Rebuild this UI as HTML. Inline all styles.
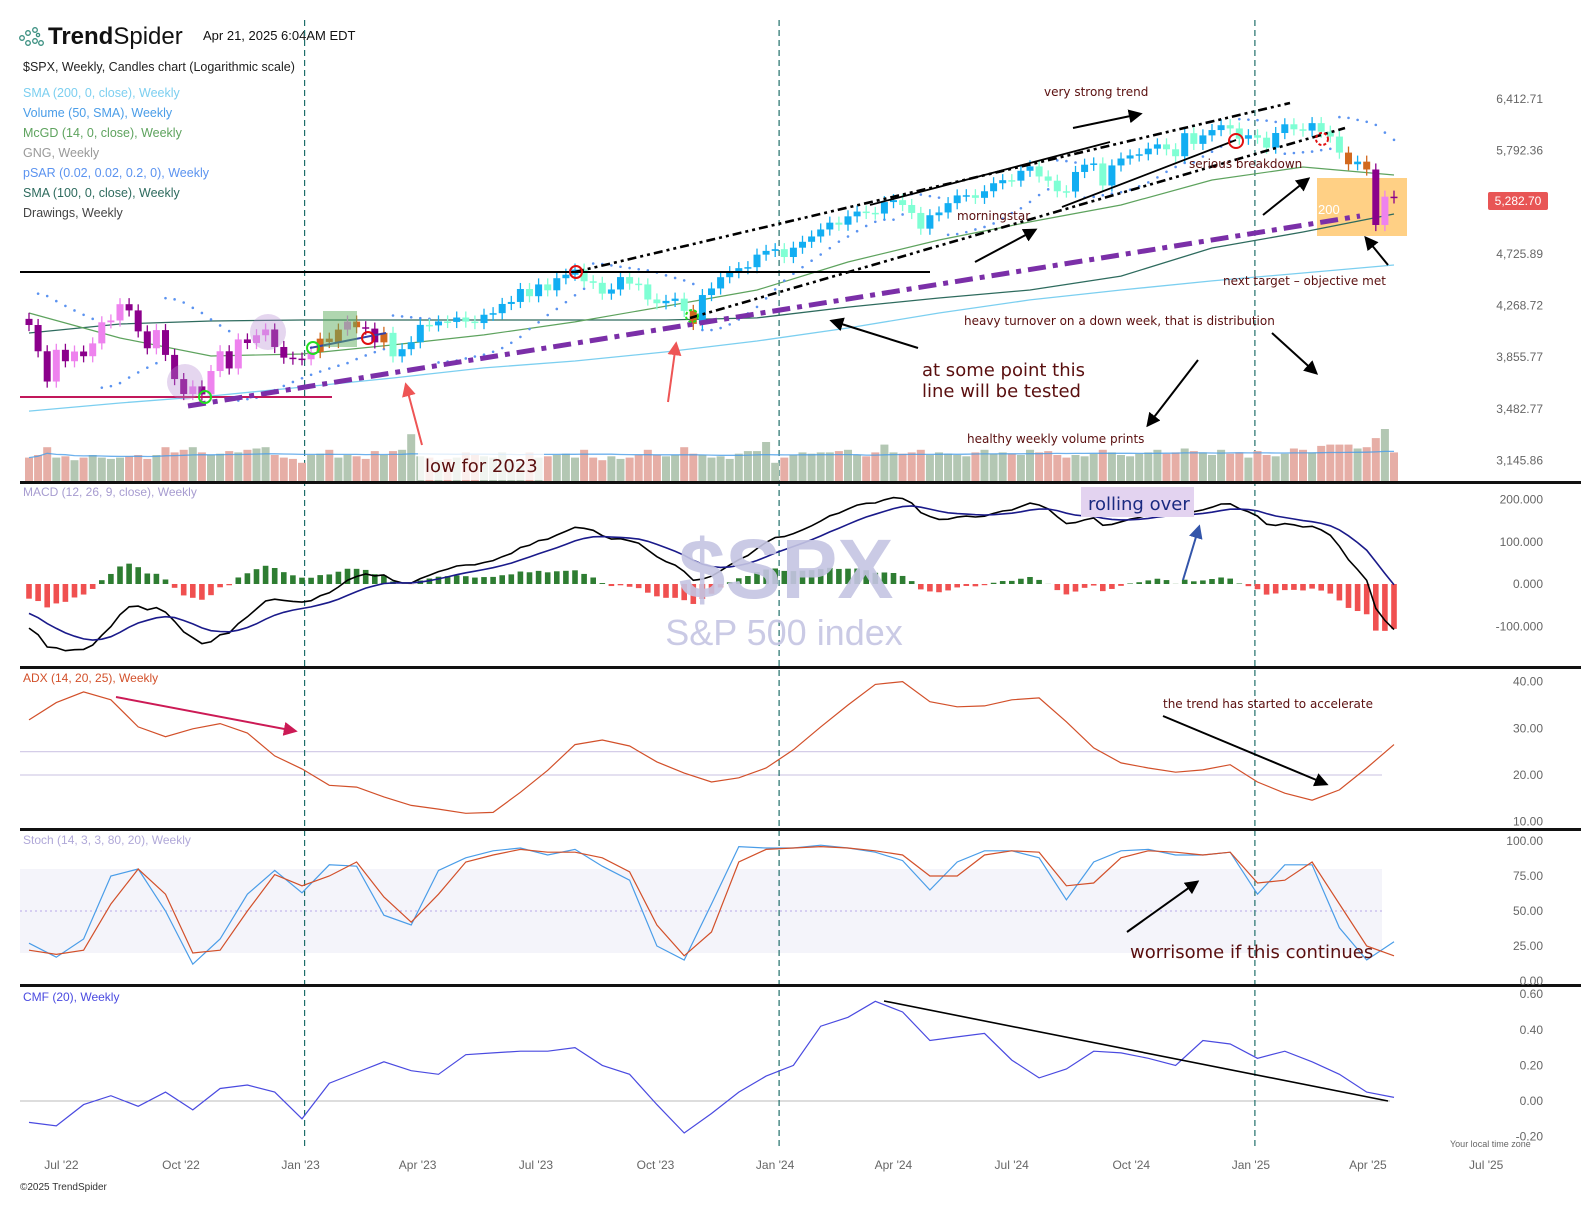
<!DOCTYPE html>
<html><head><meta charset="utf-8"><title>$SPX Weekly – TrendSpider</title>
<style>
html,body{margin:0;padding:0;background:#fff;}
svg{display:block;font-family:"Liberation Sans",sans-serif;}
.ann{font-family:"DejaVu Sans","Liberation Sans",sans-serif;fill:#5a0f0f;}
.ax{font-size:12px;fill:#666;}
</style></head>
<body>
<svg id="chart" width="1581" height="1206" viewBox="0 0 1581 1206" xmlns="http://www.w3.org/2000/svg">
<defs>
<marker id="ahB" viewBox="0 0 10 10" refX="8" refY="5" markerWidth="7" markerHeight="7" orient="auto"><path d="M0,0 L10,5 L0,10 z" fill="#000"/></marker>
<marker id="ahR" viewBox="0 0 10 10" refX="8" refY="5" markerWidth="7" markerHeight="7" orient="auto"><path d="M0,0 L10,5 L0,10 z" fill="#ee5555"/></marker>
<marker id="ahC" viewBox="0 0 10 10" refX="8" refY="5" markerWidth="7" markerHeight="7" orient="auto"><path d="M0,0 L10,5 L0,10 z" fill="#cc1a55"/></marker>
<marker id="ahN" viewBox="0 0 10 10" refX="8" refY="5" markerWidth="7" markerHeight="7" orient="auto"><path d="M0,0 L10,5 L0,10 z" fill="#3355aa"/></marker>
</defs>

<!-- header -->
<g>
  <g fill="none" stroke="#3a8f80" stroke-width="1.3">
    <circle cx="22" cy="38" r="2.3"/><circle cx="28" cy="33" r="2.3"/><circle cx="35" cy="30" r="2.3"/><circle cx="28" cy="43" r="2.3"/><circle cx="35" cy="41" r="2.3"/><circle cx="41" cy="43" r="2.3"/><circle cx="38" cy="35" r="1.6"/>
  </g>
  <text x="48" y="44" font-size="24" fill="#111"><tspan font-weight="bold">Trend</tspan><tspan>Spider</tspan></text>
  <text x="203" y="40" font-size="13" fill="#111">Apr 21, 2025 6:04AM EDT</text>
  <text x="23" y="71" font-size="12.5" fill="#222">$SPX, Weekly, Candles chart (Logarithmic scale)</text>
  <text x="23" y="97" font-size="12.5" fill="#7ccff0">SMA (200, 0, close), Weekly</text>
  <text x="23" y="117" font-size="12.5" fill="#4a9de8">Volume (50, SMA), Weekly</text>
  <text x="23" y="137" font-size="12.5" fill="#5ea35e">McGD (14, 0, close), Weekly</text>
  <text x="23" y="157" font-size="12.5" fill="#999">GNG, Weekly</text>
  <text x="23" y="177" font-size="12.5" fill="#5b93f0">pSAR (0.02, 0.02, 0.2, 0), Weekly</text>
  <text x="23" y="197" font-size="12.5" fill="#2e6b5e">SMA (100, 0, close), Weekly</text>
  <text x="23" y="217" font-size="12.5" fill="#444">Drawings, Weekly</text>
</g>

<rect x="1317" y="178" width="90" height="58" fill="#ffc870" opacity="0.85"/>
<g id="layer-bg"></g>
<g id="layer-vol"></g>
<g id="layer-lines"></g>
<g id="layer-candles"></g>
<g id="layer-ind"></g>

<!-- watermark -->
<g>
  <text x="786" y="598" font-size="84" font-weight="bold" fill="#c5c5e3" text-anchor="middle" opacity="0.9">$SPX</text>
  <text x="784" y="645" font-size="36" fill="#c5c5e3" text-anchor="middle" opacity="0.9">S&amp;P 500 index</text>
</g>

<!-- drawings -->
<g id="drawings">
  <line x1="20" y1="272" x2="930" y2="272" stroke="#000" stroke-width="2"/>
  <line x1="20" y1="397" x2="332" y2="397" stroke="#c2185b" stroke-width="2"/>
  <line x1="188" y1="406" x2="1360" y2="216" stroke="#7b2fa8" stroke-width="5" stroke-dasharray="18,7,5,7"/>
  <line x1="575" y1="272" x2="1290" y2="103" stroke="#000" stroke-width="2.6" stroke-dasharray="9,4,3,4,3,4"/>
  <line x1="690" y1="318" x2="1345" y2="128" stroke="#000" stroke-width="2.6" stroke-dasharray="9,4,3,4,3,4"/>
  <line x1="870" y1="205" x2="1110" y2="142" stroke="#000" stroke-width="1.8"/>
  <line x1="1062" y1="207" x2="1236" y2="140" stroke="#000" stroke-width="1.8"/>
  <line x1="310" y1="348" x2="386" y2="333" stroke="#3344aa" stroke-width="2"/>
  <circle cx="185" cy="382" r="18" fill="#b48ad0" opacity="0.35"/>
  <circle cx="268" cy="332" r="18" fill="#b48ad0" opacity="0.35"/>
  <rect x="323" y="311" width="34" height="36" fill="#5fae5f" opacity="0.5"/>
  <text x="1318" y="214" font-size="13" fill="#fff">200</text>
  <circle cx="205" cy="397" r="6" fill="none" stroke="#22dd22" stroke-width="2"/>
  <circle cx="313" cy="348" r="6" fill="none" stroke="#22dd22" stroke-width="2"/>
  <circle cx="692" cy="316" r="6" fill="none" stroke="#22dd22" stroke-width="2" stroke-dasharray="3,2"/>
  <circle cx="368" cy="338" r="6" fill="none" stroke="#e01010" stroke-width="2"/>
  <circle cx="576" cy="272" r="6" fill="none" stroke="#e01010" stroke-width="2"/>
  <circle cx="1236" cy="141" r="7" fill="none" stroke="#e01010" stroke-width="2"/>
  <circle cx="1322" cy="139" r="6" fill="none" stroke="#e01010" stroke-width="2" stroke-dasharray="3,2"/>
  <line x1="1073" y1="128" x2="1140" y2="114" stroke="#000" stroke-width="2" marker-end="url(#ahB)"/>
  <line x1="975" y1="262" x2="1035" y2="230" stroke="#000" stroke-width="2" marker-end="url(#ahB)"/>
  <line x1="918" y1="348" x2="832" y2="321" stroke="#000" stroke-width="2" marker-end="url(#ahB)"/>
  <line x1="1198" y1="360" x2="1148" y2="425" stroke="#000" stroke-width="2" marker-end="url(#ahB)"/>
  <line x1="1272" y1="333" x2="1316" y2="373" stroke="#000" stroke-width="2" marker-end="url(#ahB)"/>
  <line x1="1263" y1="215" x2="1308" y2="179" stroke="#000" stroke-width="2" marker-end="url(#ahB)"/>
  <line x1="1388" y1="265" x2="1366" y2="238" stroke="#000" stroke-width="2" marker-end="url(#ahB)"/>
  <line x1="668" y1="402" x2="676" y2="344" stroke="#ee5555" stroke-width="2" marker-end="url(#ahR)"/>
  <line x1="422" y1="445" x2="406" y2="385" stroke="#ee5555" stroke-width="2" marker-end="url(#ahR)"/>
  <line x1="116" y1="697" x2="295" y2="731" stroke="#cc1a55" stroke-width="2" marker-end="url(#ahC)"/>
  <line x1="1183" y1="580" x2="1199" y2="527" stroke="#3355aa" stroke-width="2" marker-end="url(#ahN)"/>
  <line x1="1163" y1="716" x2="1326" y2="784" stroke="#000" stroke-width="2" marker-end="url(#ahB)"/>
  <line x1="1127" y1="932" x2="1197" y2="882" stroke="#000" stroke-width="2" marker-end="url(#ahB)"/>
  <line x1="884" y1="1001" x2="1388" y2="1101" stroke="#000" stroke-width="1.6"/>
  <text class="ann" x="1044" y="96" font-size="12">very strong trend</text>
  <text class="ann" x="957" y="220" font-size="12">morningstar</text>
  <text class="ann" x="1189" y="168" font-size="12">serious breakdown</text>
  <text class="ann" x="1223" y="285" font-size="12">next target – objective met</text>
  <text class="ann" x="964" y="325" font-size="12">heavy turnover on a down week, that is distribution</text>
  <text class="ann" x="922" y="376" font-size="18">at some point this</text>
  <text class="ann" x="922" y="397" font-size="18">line will be tested</text>
  <text class="ann" x="967" y="443" font-size="12">healthy weekly volume prints</text>
  <rect x="418" y="452" width="126" height="28" fill="#fff" opacity="0.8"/>
  <text class="ann" x="425" y="472" font-size="18">low for 2023</text>
  <rect x="1081" y="487" width="113" height="30" fill="#e3d3f0"/>
  <text x="1088" y="510" font-size="18" fill="#1a2a80" font-family="DejaVu Sans,sans-serif">rolling over</text>
  <text class="ann" x="1163" y="708" font-size="12">the trend has started to accelerate</text>
  <text class="ann" x="1130" y="958" font-size="18">worrisome if this continues</text>
</g>

<g>
  <rect x="20" y="481" width="1561" height="3" fill="#111"/>
  <rect x="20" y="666" width="1561" height="3" fill="#111"/>
  <rect x="20" y="828" width="1561" height="3" fill="#111"/>
  <rect x="20" y="984" width="1561" height="3" fill="#111"/>
  <text x="23" y="496" font-size="12" fill="#a79cd0">MACD (12, 26, 9, close), Weekly</text>
  <text x="23" y="682" font-size="12" fill="#d2502a">ADX (14, 20, 25), Weekly</text>
  <text x="23" y="844" font-size="12" fill="#b0a8d8">Stoch (14, 3, 3, 80, 20), Weekly</text>
  <text x="23" y="1001" font-size="12" fill="#4a4ae0">CMF (20), Weekly</text>
  <text x="1450" y="1147" font-size="9" fill="#666">Your local time zone</text>
  <text x="20" y="1190" font-size="10" fill="#333">©2025 TrendSpider</text>
  <rect x="1488" y="192" width="60" height="18" rx="2" fill="#e85555"/>
  <text x="1518" y="205" font-size="12" fill="#fff" text-anchor="middle">5,282.70</text>
</g>
<g id="layer-axes"></g>
</svg>

<script>
// ===== data =====
const closes=[4108,3901,3675,3912,3825,3899,3863,3962,4130,4145,4280,4228,4057,3924,4067,3873,3693,3586,3640,3583,3752,3901,3771,3993,3965,4026,4072,3934,3852,3845,3840,
3895,3999,3973,4071,4136,4090,4079,3970,4045,3862,3917,3971,4109,4105,4137,4133,4169,4136,4124,4192,4205,4282,4299,4410,4348,4450,4399,4505,4536,4582,4478,4464,4370,4406,4515,4457,4450,4320,4288,4308,4327,4224,4117,4358,4415,4514,4559,4595,4604,4719,4754,4770,
4697,4784,4840,4891,4959,5026,5006,5089,5137,5124,5117,5234,5254,5204,5123,4967,5100,5128,5223,5303,5305,5278,5347,5432,5465,5460,5567,5615,5505,5459,5347,5344,5554,5634,5648,5408,5626,5703,5738,5751,5815,5864,5808,5729,5995,5870,5969,6032,6090,6051,5930,5971,
5942,5827,5997,6101,6041,6026,6115,6013,5955,5770,5639,5668,5581,5003,5290,5283];
const firstOpen=4158;
const zones="rrrrrrrrrrrrrrrrrrrrrrrrrrrrrrrr"+"ooo"+"r"+"o"+"rr"+"o"+"ggggggggggggggggggggggggggggggggg"+"o"+"ggggggggggggggggggggggggggggggggggggggggggggggggggggggggggggggggggggggg"+"o"+"g"+"o"+"rrr";
const volumes=[18,20,26,18,19,16,18,20,18,17,18,19,20,17,20,26,22,24,26,22,20,21,23,22,24,25,26,20,18,17,14,
20,21,24,18,20,19,17,23,20,23,24,36,19,18,16,17,18,22,20,19,18,22,16,14,22,18,19,20,21,18,24,18,16,19,17,18,20,24,20,19,20,26,21,20,18,19,17,21,23,23,30,14,
18,20,22,21,22,22,23,24,20,19,22,28,22,21,22,24,20,22,21,20,19,22,24,21,22,21,20,24,22,23,20,18,20,19,21,24,22,20,19,21,22,24,21,22,25,23,22,20,24,21,22,18,
23,20,19,21,25,24,22,27,28,28,28,25,26,33,40,22];
const sma200Vals=[3467,3523,3572,3635,3701,3775,3827,3896,3981,4084,4206,4316,4401,4481,4551,4624];
const sma100Vals=[4044,4116,4141,4149,4149,4149,4149,4149,4166,4256,4333,4401,4524,4781,4934,5112];
const mcgdVals=[4206,4004,3865,3880,3950,4029,4133,4264,4401,4651,4857,5033,5204,5467,5608,5521];
const adxVals=[31.8,35.5,37.8,36.1,30.3,28.2,29.9,31,29,24.1,21.3,17.8,17.4,15.3,13.5,12.7,11.8,12,16.3,21,26.5,27.5,26.2,22.8,20.4,18.5,19.4,21.5,25.4,30.3,35,39.4,40,35.7,34.6,34.8,36.1,36.5,31.4,25.8,22.6,21.5,20.6,21.1,22.2,18.5,16.1,14.6,16.8,21.5,26.5];
const stochK=[27,17,30,75,80,50,12,30,62,79,63,83,82,47,40,79,88,93,95,90,94,82,72,25,15,55,96,95,95,97,95,92,86,65,85,93,93,88,58,85,93,94,90,90,92,62,83,83,38,15,28];
const stochD=[22,19,22,55,80,62,20,22,50,76,68,75,85,60,42,62,85,90,94,92,92,88,78,40,18,35,85,94,95,96,95,93,90,75,75,90,93,92,68,70,88,93,92,90,92,70,72,85,55,25,18];
const cmfVals=[-.12,-.14,-.02,.03,-.03,.05,-.05,.07,.09,.05,-.1,.1,.16,.22,.17,.15,.26,.27,.28,.28,.3,.2,.15,-.02,-.18,-.07,.05,.14,.2,.42,.47,.56,.5,.34,.36,.38,.23,.13,.18,.28,.27,.24,.2,.34,.32,.24,.28,.22,.15,.05,.02];
const dateLabels=["Jul '22","Oct '22","Jan '23","Apr '23","Jul '23","Oct '23","Jan '24","Apr '24","Jul '24","Oct '24","Jan '25","Apr '25","Jul '25"];
const dateDays=[28,120,212,302,393,485,577,668,759,851,943,1033,1124];
const yearLineDays=[212,577,943];
const priceTicks=[6412.71,5792.36,4725.89,4268.72,3855.77,3482.77,3145.86];
const priceTickLabels=["6,412.71","5,792.36","4,725.89","4,268.72","3,855.77","3,482.77","3,145.86"];
const macdTicks=[200,100,0,-100];
const macdTickLabels=["200.000","100.000","0.000","-100.000"];
const adxTicks=[40,30,20,10];
const adxTickLabels=["40.00","30.00","20.00","10.00"];
const stochTicks=[100,75,50,25,0];
const stochTickLabels=["100.00","75.00","50.00","25.00","0.00"];
const cmfTicks=[0.6,0.4,0.2,0,-0.2];
const cmfTickLabels=["0.60","0.40","0.20","0.00","-0.20"];

// ===== scales =====
const NS="http://www.w3.org/2000/svg";
const xDay=d=>29+d*9.1/7;
const xI=i=>xDay(i*7);
const yP=p=>99+507.5*Math.log(6412.71/p);
const yMacd=v=>584-v*0.4225;
const yAdx=v=>775-(v-20)*4.67;
const yStoch=v=>981-v*1.4;
const yCmf=v=>1101-v*178;
const yVol=v=>481-v*1.3;
function mk(tag,attrs,parent){const e=document.createElementNS(NS,tag);for(const k in attrs)e.setAttribute(k,attrs[k]);parent.appendChild(e);return e;}
const bg=document.getElementById('layer-bg'),vl=document.getElementById('layer-vol'),ln=document.getElementById('layer-lines'),cl=document.getElementById('layer-candles'),ind=document.getElementById('layer-ind'),axl=document.getElementById('layer-axes');

let r=mk('rect',{x:20,y:yStoch(80),width:1362,height:yStoch(20)-yStoch(80),fill:'#f4f4fa'},bg);


let l=mk('line',{x1:20,x2:1382,y1:yStoch(50),y2:yStoch(50),stroke:'#b8a8e8','stroke-dasharray':'2,3'},bg);


[25,20].forEach(v=>{const g=mk('line',{x1:20,x2:1382,y1:yAdx(v),y2:yAdx(v),stroke:'#d4cde8','stroke-width':1.2},bg);

});
l=mk('line',{x1:20,x2:1390,y1:yCmf(0),y2:yCmf(0),stroke:'#bbb'},bg);


yearLineDays.forEach(d=>{const g=mk('line',{x1:xDay(d),x2:xDay(d),y1:20,y2:1150,stroke:'#1f6f6a','stroke-width':1.2,'stroke-dasharray':'6,4'},bg);

});

const n=closes.length;
const opens=closes.map((c,i)=>i===0?firstOpen:closes[i-1]);
const highs=closes.map((c,i)=>Math.max(c,opens[i])*1.012);
const lows=closes.map((c,i)=>Math.min(c,opens[i])*0.988);
function candleColor(i){const up=closes[i]>=opens[i];const z=zones[i];
 if(z==='o')return '#d2691e'; if(z==='r')return up?'#ee82ee':'#8b008b'; return up?'#12aef2':'#7fffd4';}
for(let i=0;i<n;i++){
 const x=xI(i),c=candleColor(i);
 const g=mk('g',{},cl);
 
 
 mk('line',{x1:x,x2:x,y1:yP(highs[i]),y2:yP(lows[i]),stroke:c,'stroke-width':1.3},g);
 const t=yP(Math.max(opens[i],closes[i])),b=yP(Math.min(opens[i],closes[i]));
 mk('rect',{x:x-3.5,y:t,width:7,height:Math.max(1.5,b-t),fill:c},g);
}
for(let i=0;i<n;i++){
 const up=closes[i]>=opens[i];
 const b=mk('rect',{x:xI(i)-4,y:yVol(volumes[i]),width:8,height:481-yVol(volumes[i]),fill:up?'#b3c7b3':'#e6aea6'},vl);
 
 
}
let vp=[];for(let i=0;i<n;i++){const s=volumes.slice(Math.max(0,i-49),i+1);vp.push(xI(i)+','+yVol(s.reduce((a,b)=>a+b,0)/s.length).toFixed(1));}
l=mk('polyline',{points:vp.join(' '),fill:'none',stroke:'#4a9de8','stroke-width':1.3,opacity:0.8},vl);



function sampled(vals,step,yf){return vals.map((v,k)=>xI(k*step).toFixed(1)+','+yf(v).toFixed(1)).join(' ');}
l=mk('polyline',{points:sampled(sma200Vals,10,yP),fill:'none',stroke:'#7ccff0','stroke-width':1.3},ln);


l=mk('polyline',{points:sampled(sma100Vals,10,yP),fill:'none',stroke:'#2e6b5e','stroke-width':1.3},ln);


l=mk('polyline',{points:sampled(mcgdVals,10,yP),fill:'none',stroke:'#5ea35e','stroke-width':1.2},ln);


(function(){let up=false,sar=highs[0]*1.04,ep=lows[0],af=0.02;
 for(let i=1;i<n;i++){sar=sar+af*(ep-sar);
  if(up){sar=Math.min(sar,lows[i-1]);if(lows[i]<sar){up=false;sar=ep;ep=lows[i];af=0.02;}else if(highs[i]>ep){ep=highs[i];af=Math.min(af+0.02,0.2);}}
  else{sar=Math.max(sar,highs[i-1]);if(highs[i]>sar){up=true;sar=ep;ep=highs[i];af=0.02;}else if(lows[i]<ep){ep=lows[i];af=Math.min(af+0.02,0.2);}}
  const d=mk('circle',{cx:xI(i),cy:yP(sar),r:1.3,fill:'#5b93f0'},ln);
  
  
 }})();

let e12=4210,e26=4314,sig=-61;const macd=[],sigA=[];
for(let i=0;i<n;i++){e12=e12+(closes[i]-e12)*2/13;e26=e26+(closes[i]-e26)*2/27;const m=e12-e26;sig=sig+(m-sig)*2/10;macd.push(m);sigA.push(sig);}
for(let i=0;i<n;i++){const h=macd[i]-sigA[i];const y0=yMacd(0),y1=yMacd(h);
 const b=mk('rect',{x:xI(i)-2.8,y:Math.min(y0,y1),width:5.6,height:Math.abs(y1-y0),fill:h>=0?'#2e7d32':'#f05050'},ind);
 
 }
l=mk('polyline',{points:macd.map((v,i)=>xI(i)+','+yMacd(v).toFixed(1)).join(' '),fill:'none',stroke:'#000','stroke-width':1.6},ind);


l=mk('polyline',{points:sigA.map((v,i)=>xI(i)+','+yMacd(v).toFixed(1)).join(' '),fill:'none',stroke:'#1a1a8a','stroke-width':1.6},ind);



l=mk('polyline',{points:sampled(adxVals,3,yAdx),fill:'none',stroke:'#d2502a','stroke-width':1.2},ind);


l=mk('polyline',{points:sampled(stochK,3,yStoch),fill:'none',stroke:'#4a9de8','stroke-width':1.2},ind);


l=mk('polyline',{points:sampled(stochD,3,yStoch),fill:'none',stroke:'#d2502a','stroke-width':1.2},ind);


l=mk('polyline',{points:sampled(cmfVals,3,yCmf),fill:'none',stroke:'#4a4ae0','stroke-width':1.2},ind);



function rightLabels(vals,labels,yf,name){vals.forEach((v,k)=>{const t=mk('text',{x:1543,y:(yf(v)+4).toFixed(1),'text-anchor':'end',class:'ax'},axl);t.textContent=labels[k];
 
 });}
rightLabels(priceTicks,priceTickLabels,yP,'price-tick-label');
rightLabels(macdTicks,macdTickLabels,yMacd,'macd-tick-label');
rightLabels(adxTicks,adxTickLabels,yAdx,'adx-tick-label');
rightLabels(stochTicks,stochTickLabels,yStoch,'stoch-tick-label');
rightLabels(cmfTicks,cmfTickLabels,yCmf,'cmf-tick-label');
dateLabels.forEach((s,k)=>{const t=mk('text',{x:(xDay(dateDays[k])-4).toFixed(1),y:1169,'text-anchor':'middle',class:'ax'},axl);t.textContent=s;
 
 });
</script>
</body></html>
